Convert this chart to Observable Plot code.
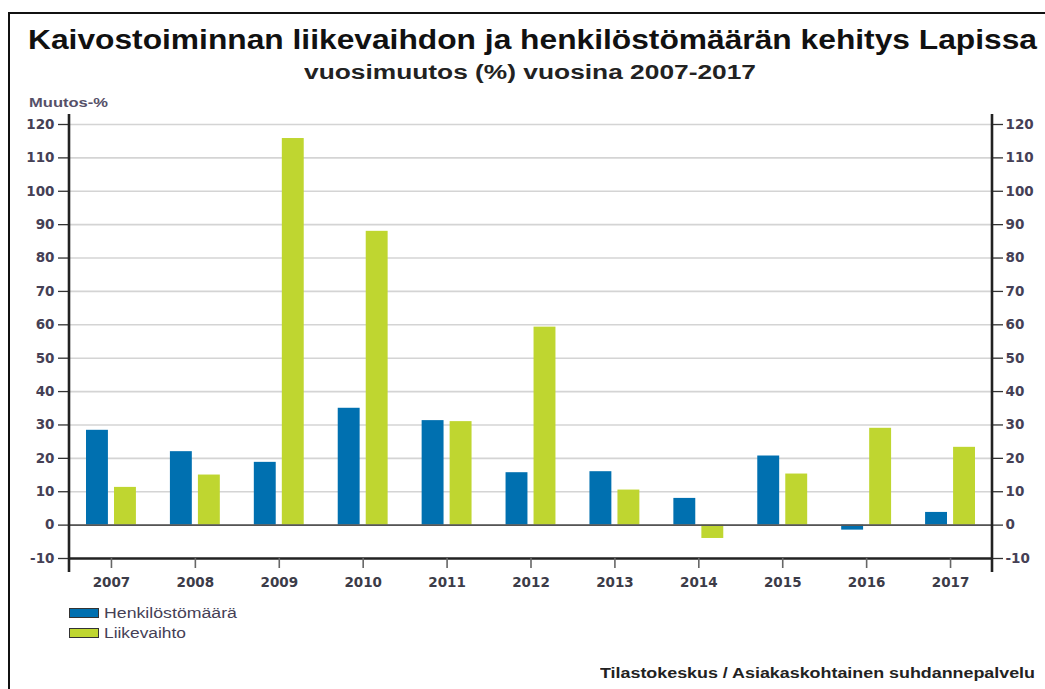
<!DOCTYPE html>
<html><head><meta charset="utf-8">
<script src="https://cdn.jsdelivr.net/npm/d3@7"></script>
<script src="https://cdn.jsdelivr.net/npm/@observablehq/plot@0.6"></script>
<style>
body{margin:0;background:#fff;font-family:"Liberation Sans",Arial,sans-serif;}
#wrap{position:relative;width:1045px;height:689px;overflow:hidden;background:#fff;}
.abs{position:absolute;white-space:nowrap;line-height:1;transform-origin:0 0;}
#chart{position:absolute;left:0;top:95px;}
.sw{position:absolute;width:28px;height:8px;border:1.5px solid #333;}
</style></head><body>
<div id="wrap">
  <div style="position:absolute;left:8px;top:12px;width:1200px;height:900px;border-left:2px solid #111;border-top:2px solid #111;"></div>
  <div id="title" class="abs" style="left:28px;top:27px;font-size:27px;font-weight:bold;color:#111;">Kaivostoiminnan liikevaihdon ja henkilöstömäärän kehitys Lapissa</div>
  <div id="subtitle" class="abs" style="left:304px;top:63px;font-size:19.5px;font-weight:bold;color:#222;">vuosimuutos (%) vuosina 2007-2017</div>
  <div id="ylab" class="abs" style="left:29px;top:97px;font-size:12px;font-weight:bold;color:#555068;">Muutos-%</div>
  <div id="chart"></div>
  <div id="legend"></div>
  <div id="caption" class="abs" style="left:600px;top:666px;font-size:14px;font-weight:bold;color:#222;">Tilastokeskus / Asiakaskohtainen suhdannepalvelu</div>
</div>
<script>
const years = ["2007","2008","2009","2010","2011","2012","2013","2014","2015","2016","2017"];
const henkilostomaara = [28.4, 22.0, 18.8, 35.0, 31.3, 15.7, 16.0, 8.0, 20.7, -1.5, 3.8];
const liikevaihto = [11.3, 15.0, 115.8, 88.0, 31.0, 59.3, 10.5, -4.0, 15.3, 29.0, 23.3];
const seriesNames = ["Henkilöstömäärä", "Liikevaihto"];
const seriesColors = ["#0070b0", "#bfd630"];
const yTicks = [-10, 0, 10, 20, 30, 40, 50, 60, 70, 80, 90, 100, 110, 120];
const gridTicks = [0, 10, 20, 30, 40, 50, 60, 70, 80, 90, 100, 110, 120];

const data = years.flatMap((y, i) => [
  {year: y, series: seriesNames[0], value: henkilostomaara[i]},
  {year: y, series: seriesNames[1], value: liikevaihto[i]}
]);

const axisText = {fill: "#454055", fontWeight: "bold", fontSize: 13.5};
const fmt = d => String(d);

const plot = Plot.plot({
  width: 1045, height: 495,
  marginTop: 29, marginBottom: 32, marginLeft: 69, marginRight: 53,
  style: {fontFamily: "'DejaVu Sans', sans-serif", background: "transparent", overflow: "visible"},
  x: {domain: years, padding: 0, round: false, label: null},
  y: {domain: [-10, 120], label: null},
  color: {domain: seriesNames, range: seriesColors},
  marks: [
    Plot.gridY(gridTicks, {stroke: "#d4d4d4", strokeOpacity: 1, strokeWidth: 1.6}),
    Plot.barY(data.filter(d => d.series === seriesNames[0]), {x: "year", y: "value", fill: "series", insetLeft: 17, insetRight: 45}),
    Plot.barY(data.filter(d => d.series === seriesNames[1]), {x: "year", y: "value", fill: "series", insetLeft: 45, insetRight: 17}),
    Plot.ruleY([0], {stroke: "#555", strokeWidth: 1.6}),
    Plot.ruleY([-10], {stroke: "#222", strokeWidth: 2.5}),
    Plot.axisY(yTicks, {anchor: "left", tickSize: 11, tickPadding: 4, tickFormat: fmt, stroke: "#333", strokeWidth: 1.3, ...axisText}),
    Plot.axisY(yTicks, {anchor: "right", tickSize: 10, tickPadding: 3, tickFormat: fmt, stroke: "#333", strokeWidth: 1.3, ...axisText}),
    Plot.axisX({anchor: "bottom", tickSize: 10, tickPadding: 9, stroke: "#666", strokeWidth: 1.6, ...axisText, fontSize: 13.5, fill: "#3c3c48"})
  ]
});
document.getElementById("chart").appendChild(plot);

// vertical axis lines at both ends of the x range, extended slightly like the original
const xs = plot.scale("x").range;
const ys = plot.scale("y");
const svg = d3.select(plot);
for (const xv of xs) {
  svg.append("line")
    .attr("x1", xv).attr("x2", xv)
    .attr("y1", ys.apply(120) - 10).attr("y2", ys.apply(-10) + 14)
    .attr("stroke", "#222").attr("stroke-width", 2.6);
}

// legend
const legend = document.getElementById("legend");
seriesNames.forEach((name, i) => {
  const sw = document.createElement("div");
  sw.className = "sw";
  sw.style.left = "69px";
  sw.style.top = (608 + i * 20) + "px";
  sw.style.background = seriesColors[i];
  legend.appendChild(sw);
  const t = document.createElement("div");
  t.className = "abs";
  t.id = "leg" + i;
  t.style.left = "104px";
  t.style.top = (606 + i * 20) + "px";
  t.style.fontSize = "14px";
  t.style.color = "#454055";
  t.textContent = name;
  legend.appendChild(t);
});

// fit text widths to the reference layout
function fit(id, width) {
  const el = document.getElementById(id);
  const w = el.getBoundingClientRect().width;
  el.style.transform = `scaleX(${width / w})`;
}
fit("title", 1009);
fit("subtitle", 452);
fit("caption", 435);
fit("ylab", 79);
fit("leg0", 133);
fit("leg1", 82);
</script>
</body></html>
